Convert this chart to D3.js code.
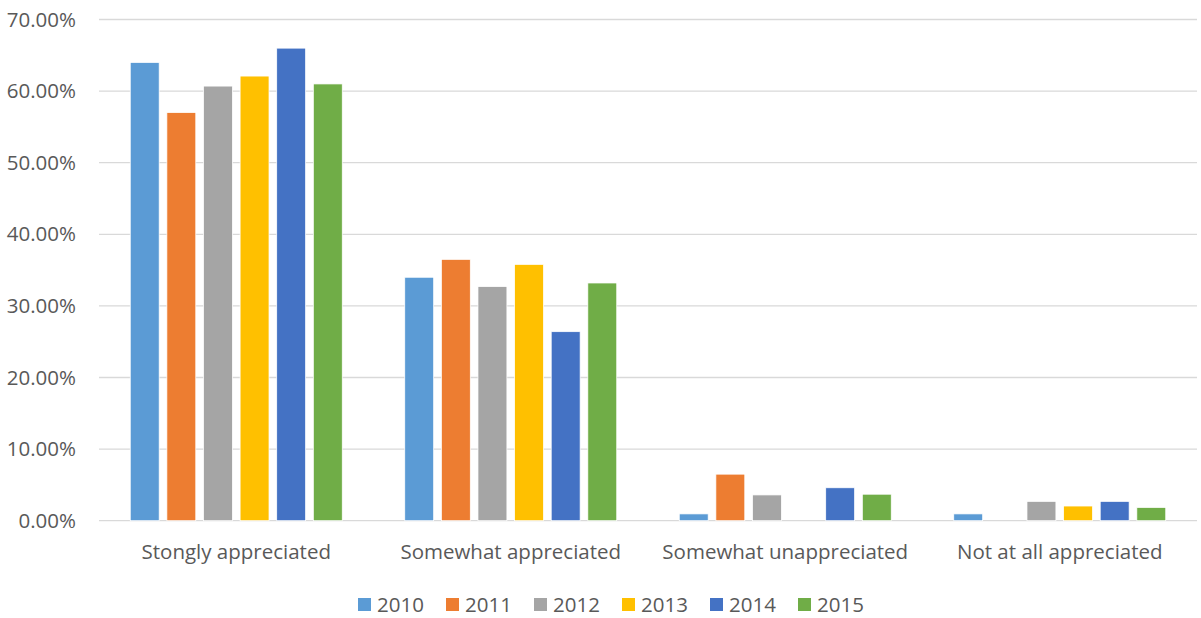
<!DOCTYPE html>
<html>
<head>
<meta charset="utf-8">
<title>Appreciation by year</title>
<script src="https://d3js.org/d3.v7.min.js"></script>
<style>
  body { margin: 0; background: #fff; }
  text { font-family: "Open Sans", "Noto Sans", sans-serif; fill: #595959; }
</style>
</head>
<body>
<div id="chart"></div>
<script>
// data (percent)
var categories = ["Stongly appreciated", "Somewhat appreciated", "Somewhat unappreciated", "Not at all appreciated"];
var years = ["2010", "2011", "2012", "2013", "2014", "2015"];
var colors = ["#5b9bd5", "#ed7d31", "#a5a5a5", "#ffc000", "#4472c4", "#70ad47"];
var v2010 = [64.0, 34.0, 0.95, 0.95];
var v2011 = [57.0, 36.5, 6.5, 0];
var v2012 = [60.7, 32.7, 3.6, 2.7];
var v2013 = [62.1, 35.8, 0, 2.05];
var v2014 = [66.0, 26.4, 4.6, 2.7];
var v2015 = [61.0, 33.2, 3.7, 1.85];
var series = [v2010, v2011, v2012, v2013, v2014, v2015];
var yTicks = [0, 10, 20, 30, 40, 50, 60, 70];

var W = 1201, H = 618;
var plotLeft = 99, plotRight = 1197, plotTop = 19.5, plotBottom = 520.7;
var fontSize = "20.5px";

var svg = d3.select("#chart").append("svg")
    .attr("width", W).attr("height", H);

var y = d3.scaleLinear().domain([0, 70]).range([plotBottom, plotTop]);
var x0 = d3.scaleBand().domain(categories).range([plotLeft, plotRight]).padding(0);
var groupSpan = 212;
var x1 = d3.scaleBand().domain(years)
    .range([-groupSpan / 2, groupSpan / 2]).paddingInner(0.21).paddingOuter(0);

// gridlines
svg.append("g").selectAll("line")
  .data(yTicks)
  .enter().append("line")
    .attr("x1", plotLeft).attr("x2", plotRight)
    .attr("y1", function(d) { return y(d); })
    .attr("y2", function(d) { return y(d); })
    .attr("stroke", "#d9d9d9").attr("stroke-width", 1.3);

// y labels
var yAxis = d3.axisLeft(y).tickValues(yTicks)
    .tickFormat(function(d) { return d.toFixed(2) + "%"; })
    .tickSize(0).tickPadding(0);
var ya = svg.append("g").attr("transform", "translate(76,0)").call(yAxis);
ya.select(".domain").remove();
ya.selectAll("text").style("font-size", fontSize).attr("fill", "#595959")
  .style("font-family", "Open Sans");

// bars
var groups = svg.append("g").selectAll("g")
  .data(categories)
  .enter().append("g")
    .attr("transform", function(d) { return "translate(" + (x0(d) + x0.bandwidth() / 2) + ",0)"; });

groups.selectAll("rect")
  .data(function(c, ci) {
    return years.map(function(yr, si) { return { year: yr, i: si, v: series[si][ci] }; });
  })
  .enter().append("rect")
    .attr("x", function(d) { return x1(d.year); })
    .attr("width", x1.bandwidth())
    .attr("y", function(d) { return y(d.v); })
    .attr("height", function(d) { return plotBottom - y(d.v); })
    .attr("fill", function(d) { return colors[d.i]; })
    .attr("stroke", "#fff").attr("stroke-width", 0.75)
    .style("display", function(d) { return d.v > 0 ? null : "none"; });

// x axis labels
var xAxis = d3.axisBottom(x0).tickSize(0).tickPadding(0);
var xa = svg.append("g").attr("transform", "translate(0," + plotBottom + ")").call(xAxis);
xa.select(".domain").remove();
xa.selectAll("text").style("font-size", fontSize).attr("fill", "#595959")
  .style("font-family", "Open Sans").attr("dy", "0").attr("y", 38);

// legend
var legend = svg.append("g").selectAll("g")
  .data(years)
  .enter().append("g")
    .attr("transform", function(d, i) { return "translate(" + (358 + i * 88) + ",605)"; });
legend.append("rect")
    .attr("x", 0).attr("y", -7).attr("width", 13).attr("height", 13)
    .attr("fill", function(d, i) { return colors[i]; });
legend.append("text")
    .attr("x", 19).attr("y", 0).attr("dy", "0.35em")
    .style("font-size", fontSize)
    .text(function(d) { return d; });
</script>
</body>
</html>
